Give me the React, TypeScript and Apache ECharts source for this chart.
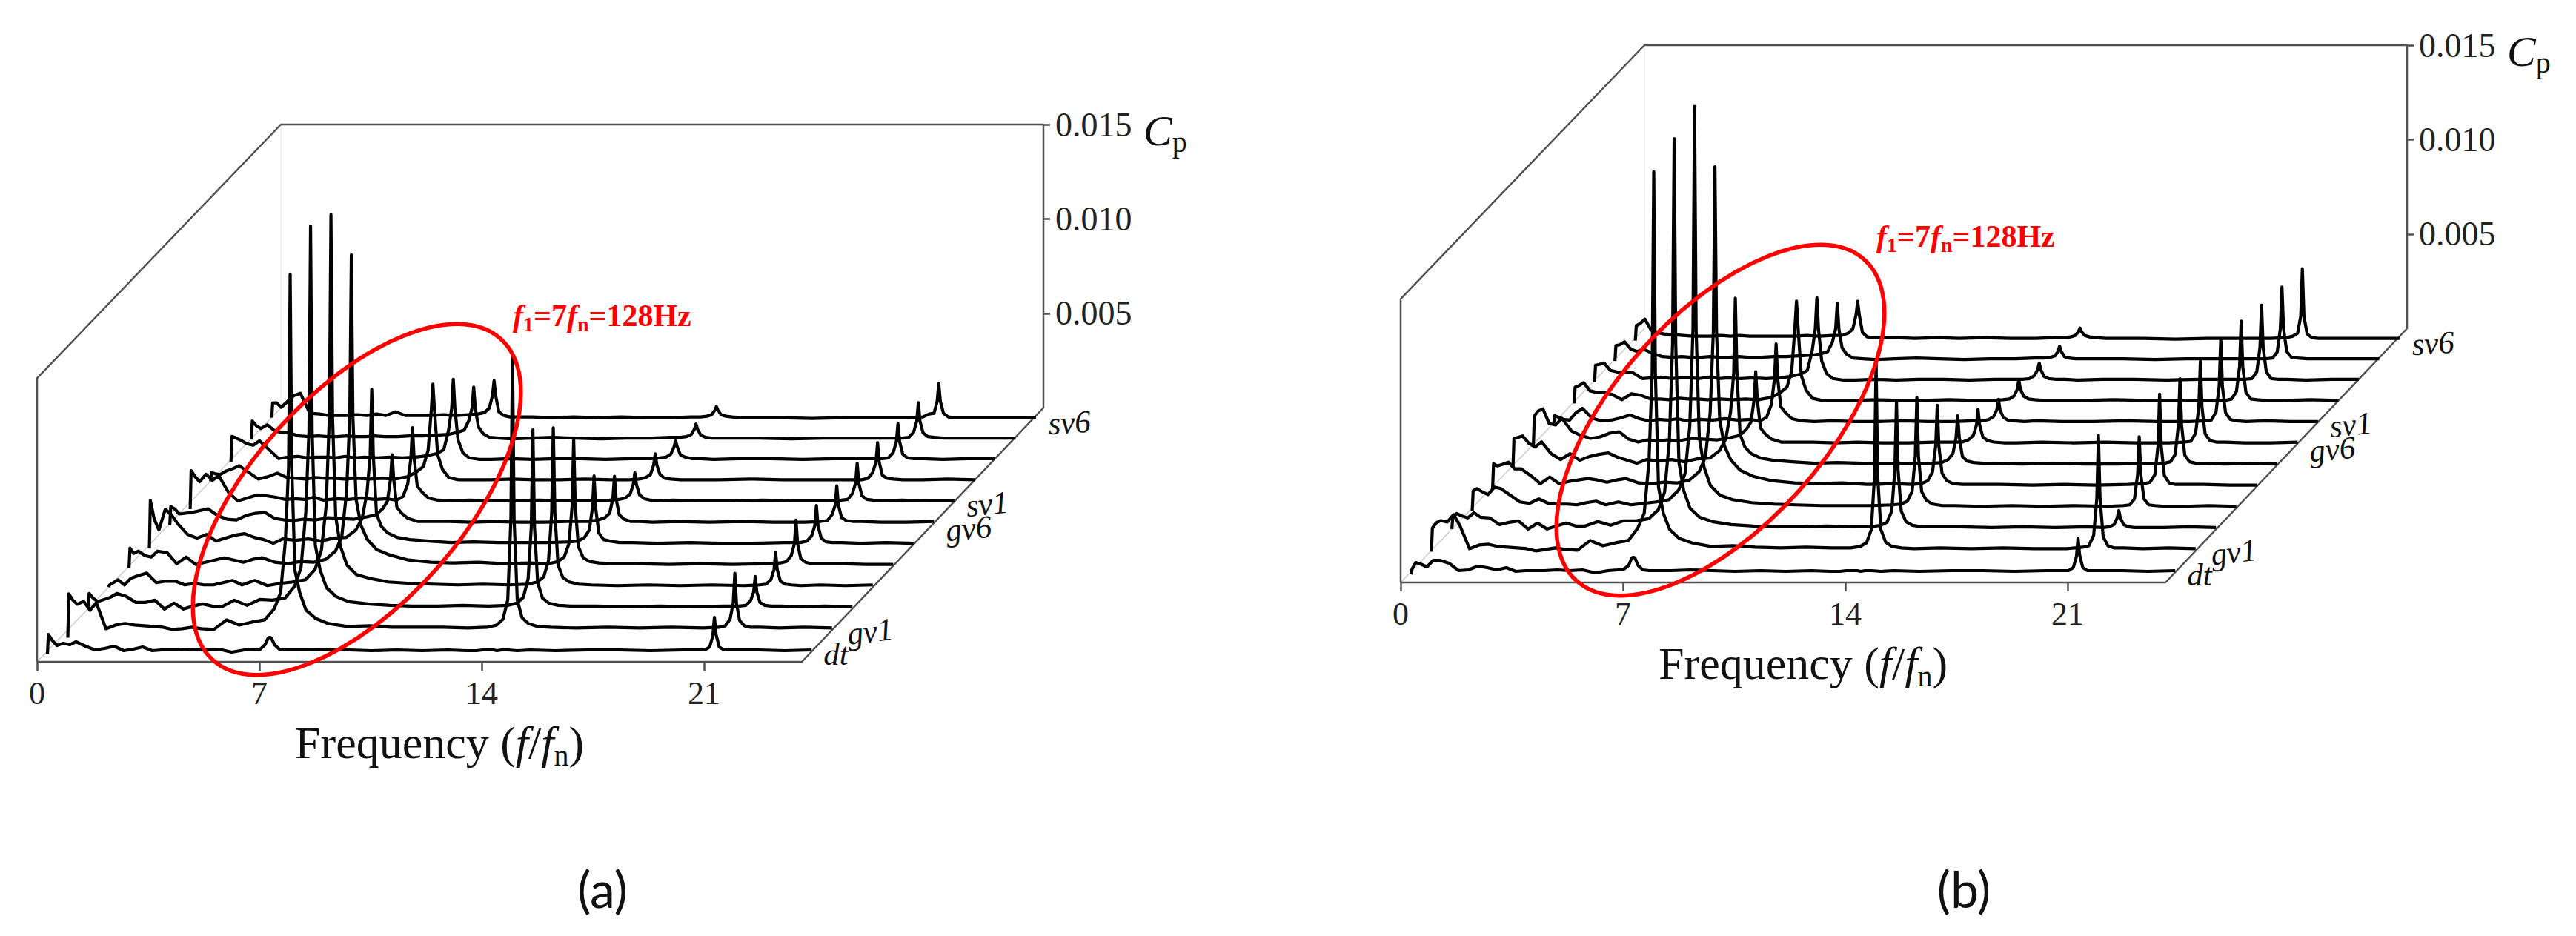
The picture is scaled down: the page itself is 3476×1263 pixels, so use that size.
import React, { useEffect, useRef } from 'react';
import * as echarts from 'echarts';

// frequency grid shared by all spectra (f/fn)
const freqs = [
  0, 0.03, 0.15, 0.3, 0.5, 0.7, 0.9, 1.2, 1.5, 1.8, 2.1, 2.4, 2.7, 3, 3.3, 3.6, 3.9, 4.2, 4.6, 5, 5.4, 5.8, 6.2,
  6.5, 6.7, 6.85, 6.95, 7, 7.05, 7.15, 7.3, 7.5, 7.8,
  8.2, 8.8, 9.5, 10.2, 11, 11.8, 12.6, 13.2,
  13.5, 13.7, 13.85, 13.95, 14, 14.05, 14.15, 14.3, 14.5, 14.8,
  15.2, 16, 17, 18, 19, 20,
  20.5, 20.7, 20.85, 20.95, 21, 21.05, 21.15, 21.3, 21.5, 21.8,
  22.4, 23.2, 24.06,
];

const lineNames = ['dt', 'gv1', 'gv2', 'gv3', 'gv4', 'gv5', 'gv6', 'sv1', 'sv2', 'sv3', 'sv4', 'sv6'];

// amplitudes are in units of CP_UNIT, from the front (dt) to the back (sv6)
const aDt = [
  -4, 22, 14, 7, 10, 8, 12, 6, 1, 3, 6, 0, 2, 5, 0, 1, 1, 1, 2, 1, 2, -2, 1,
  2, 2, 8, 17, 18, 17, 8, 2, 1, 1,
  1, 2, 1, 0, 1, 0, 1, 0,
  0, 1, 1, 1, 1, 1, 0, 1, 1, 0,
  1, 0, 1, 1, 0, 1,
  1, 1, 5, 20, 45, 22, 5, 1, 1, 1,
  1, 0, 1,
];
const aGv1 = [
  -11, 48, 40, 34, 38, 26, 36, 1, 6, 8, 6, 5, 4, 3, 0, 1, 3, 1, 0, 13, 6, 10, 13,
  28, 50, 120, 220, 480, 220, 80, 50, 26, 15,
  8, 4, 5, 3, 3, 3, 2, 3,
  6, 14, 40, 150, 372, 150, 40, 16, 8, 4,
  3, 2, 3, 2, 3, 2,
  3, 5, 14, 36, 76, 36, 12, 5, 3, 3,
  2, 3, 2,
];
const aGv2 = [
  0, 20, 14, 9, 12, 15, 20, 16, 8, 8, 11, -1, 7, -1, 3, 6, 3, 2, 11, 4, 12, 11, 14,
  30, 55, 130, 240, 516, 240, 85, 52, 28, 16,
  9, 6, 4, 3, 3, 4, 3, 4,
  7, 15, 40, 110, 241, 110, 35, 14, 7, 4,
  3, 3, 2, 3, 2, 3,
  3, 4, 10, 22, 43, 22, 8, 4, 3, 3,
  2, 3, 2,
];
const aGv3 = [
  0, 3, 6, 10, 3, 12, 15, 19, 6, 8, 8, 3, 5, 3, 3, 6, 9, 3, 9, 2, 5, 7, 10,
  24, 50, 110, 230, 503, 230, 95, 55, 30, 17,
  12, 7, 5, 4, 3, 4, 3, 4,
  7, 14, 36, 100, 215, 100, 30, 13, 7, 4,
  3, 2, 3, 2, 3, 2,
  3, 4, 10, 24, 47, 24, 8, 4, 3, 2,
  3, 2, 3,
];
const aGv4 = [
  -3, 24, 17, 20, 14, 12, 20, 18, 3, 12, 2, 5, 8, 11, 8, 5, 9, 11, 5, 3, 6, 5, 9,
  20, 40, 100, 200, 420, 200, 90, 55, 36, 22,
  15, 8, 5, 4, 5, 3, 4, 3,
  6, 12, 30, 80, 171, 80, 26, 11, 6, 4,
  3, 3, 2, 3, 2, 3,
  4, 6, 14, 30, 62, 30, 10, 5, 3, 3,
  3, 2, 2,
];
const aGv5 = [
  -5, 60, 35, 20, 48, 40, 28, 14, 9, 14, 5, 9, 13, 15, 10, 7, 2, 8, 6, 8, 5, 9, 10,
  20, 36, 70, 120, 210, 120, 42, 25, 16, 10,
  7, 5, 3, 4, 3, 3, 3, 4,
  5, 10, 20, 50, 93, 50, 16, 7, 5, 3,
  3, 2, 3, 2, 2, 3,
  3, 5, 12, 26, 53, 26, 9, 4, 3, 3,
  2, 3, 2,
];
const aGv6 = [
  -2, 23, 20, 13, 14, 15, 17, 20, 11, 6, 5, 11, 14, 15, 7, 5, 4, 6, 5, 8, 7, 6, 9,
  12, 20, 30, 60, 93, 60, 22, 14, 7, 3,
  3, 3, 2, 3, 2, 2, 3, 3,
  5, 8, 14, 34, 64, 34, 12, 6, 3, 3,
  2, 3, 2, 3, 2, 2,
  3, 4, 12, 25, 51, 25, 8, 4, 3, 3,
  2, 2, 3,
];
const aSv1 = [
  -9, 43, 35, 28, 38, 30, 36, 14, 2, 6, 10, 9, 7, 4, 5, 4, 7, 3, 5, 4, 6, 4, 5,
  3, 8, 25, 60, 101, 60, 22, 14, 6, 3,
  2, 3, 2, 2, 3, 2, 2, 3,
  4, 6, 11, 24, 40, 24, 10, 5, 3, 2,
  3, 2, 2, 3, 2, 2,
  3, 4, 12, 26, 53, 26, 9, 4, 3, 2,
  3, 2, 2,
];
const aSv2 = [
  0, 12, 10, 9, 14, 17, 21, 12, 3, 6, 11, 5, 4, 3, 5, 4, 4, 3, 4, 3, 4, 3, 6,
  13, 20, 42, 96, 131, 96, 36, 16, 5, 2,
  2, 2, 3, 2, 2, 3, 2, 2,
  3, 5, 9, 22, 37, 22, 9, 4, 3, 2,
  2, 2, 3, 2, 2, 2,
  2, 4, 12, 26, 52, 26, 8, 4, 3, 2,
  2, 3, 2,
];
const aSv3 = [
  -3, 32, 30, 27, 22, 20, 26, 14, 2, 4, 5, 3, 4, 4, 3, 5, 3, 4, 3, 4, 3, 4, 6,
  9, 14, 40, 70, 109, 70, 27, 10, 3, 1,
  1, 2, 1, 2, 2, 1, 2, 2,
  3, 4, 8, 18, 26, 18, 7, 4, 2, 2,
  1, 2, 2, 1, 2, 2,
  2, 3, 10, 25, 49, 25, 8, 3, 2, 2,
  1, 2, 2,
];
const aSv4 = [
  -1, 24, 18, 14, 19, 12, 9, 8, 4, 3, 4, 3, 3, 4, 3, 3, 4, 3, 3, 4, 4, 5, 6,
  9, 12, 25, 42, 70, 42, 16, 7, 2, 1,
  0, 1, 2, 1, 0, 1, 1, 2,
  2, 3, 6, 13, 20, 13, 5, 2, 1, 1,
  1, 1, 0, 1, 1, 1,
  1, 2, 9, 24, 49, 24, 8, 3, 2, 1,
  1, 1, 1,
];
const aSv6 = [
  0, 20, 20, 14, 22, 30, 33, 6, 5, 3, 3, 3, 4, 3, 5, 3, 8, 3, 3, 3, 4, 3, 4,
  5, 7, 13, 30, 50, 30, 8, 3, 1, 1,
  1, 0, 1, 0, 1, 0, 0, 1,
  1, 2, 4, 10, 15, 10, 4, 2, 1, 0,
  0, 0, -1, 0, 0, 0,
  1, 5, 6, 22, 46, 22, 6, 1, 0, 0,
  0, 0, 0,
];

const bDt = [
  -4, 3, 12, 10, 6, 15, 15, 11, 1, 2, 7, 5, 2, 5, 0, 1, 1, 1, 2, 1, 2, -2, 1,
  2, 3, 8, 18, 19, 18, 8, 2, 1, 1,
  1, 2, 1, 0, 1, 0, 1, 0,
  0, 1, 1, 1, 1, 1, 0, 1, 1, 0,
  1, 0, 1, 1, 0, 1,
  1, 1, 5, 20, 45, 22, 5, 1, 1, 1,
  1, 0, 1,
];
const bGv1 = [
  -2, 30, 37, 40, 38, 48, 33, 2, 7, 8, 5, 4, 3, 2, -1, 1, 3, 1, 0, 13, 6, 10, 13,
  30, 50, 120, 240, 511, 240, 85, 50, 28, 16,
  10, 5, 6, 4, 3, 4, 3, 3,
  5, 10, 28, 100, 255, 100, 28, 11, 5, 3,
  2, 3, 2, 3, 2, 2,
  4, 6, 20, 70, 155, 70, 18, 6, 3, 3,
  2, 3, 2,
];
const bGv2 = [
  0, 15, 21, 18, 15, 22, 16, 15, 6, 9, 11, 0, 8, 0, 4, 8, 4, 4, 10, 5, 11, 11, 14,
  26, 50, 120, 250, 527, 250, 90, 52, 28, 16,
  10, 6, 4, 3, 3, 4, 3, 3,
  5, 9, 24, 80, 172, 80, 24, 10, 5, 3,
  3, 3, 2, 3, 2, 3,
  2, 3, 6, 15, 25, 15, 6, 3, 2, 2,
  2, 3, 2,
];
const bGv3 = [
  -4, 23, 26, 22, 18, 28, 26, 17, 8, 6, 12, 6, 5, 5, 4, 7, 9, 4, 8, 4, 6, 8, 11,
  24, 46, 110, 240, 542, 240, 95, 55, 30, 17,
  11, 7, 5, 4, 3, 3, 3, 4,
  5, 9, 22, 70, 149, 70, 22, 10, 5, 3,
  3, 2, 3, 2, 3, 2,
  3, 4, 12, 45, 96, 45, 12, 4, 3, 2,
  2, 3, 2,
];
const bGv4 = [
  -3, 31, 28, 30, 33, 24, 24, 15, 4, 13, 4, 7, 9, 11, 9, 6, 9, 11, 5, 4, 6, 5, 9,
  20, 40, 100, 210, 432, 210, 90, 55, 36, 22,
  14, 8, 5, 4, 5, 3, 4, 3,
  4, 8, 20, 55, 110, 55, 18, 8, 4, 3,
  3, 3, 2, 3, 2, 3,
  4, 6, 16, 55, 125, 55, 15, 5, 3, 3,
  3, 2, 2,
];
const bGv5 = [
  -3, 36, 38, 40, 30, 25, 32, 16, 8, 16, 7, 12, 15, 17, 11, 7, 3, 8, 6, 8, 5, 9, 10,
  20, 36, 72, 125, 226, 125, 42, 25, 16, 10,
  7, 5, 3, 4, 3, 3, 3, 3,
  4, 8, 16, 38, 67, 38, 12, 6, 4, 3,
  3, 2, 3, 2, 2, 3,
  3, 5, 15, 55, 117, 55, 14, 5, 3, 3,
  2, 3, 2,
];
const bGv6 = [
  -2, 38, 45, 48, 28, 26, 35, 18, 12, 8, 10, 15, 17, 7, 3, 6, 4, 6, 5, 8, 7, 6, 9,
  12, 20, 30, 60, 98, 60, 22, 14, 7, 3,
  3, 3, 2, 3, 2, 2, 3, 3,
  3, 6, 12, 26, 47, 26, 10, 5, 3, 2,
  2, 3, 2, 3, 2, 2,
  3, 4, 15, 50, 112, 50, 14, 5, 3, 3,
  2, 2, 3,
];
const bSv1 = [
  0, 10, 8, 5, 4, 14, 20, 7, 3, 4, 7, 11, 6, 3, 5, 4, 6, 3, 5, 4, 6, 4, 5,
  3, 8, 25, 60, 107, 60, 22, 14, 6, 3,
  2, 3, 2, 2, 3, 2, 2, 3,
  3, 5, 9, 18, 32, 18, 8, 4, 3, 2,
  3, 2, 2, 3, 2, 2,
  3, 4, 15, 50, 114, 50, 14, 5, 3, 2,
  3, 2, 2,
];
const bSv2 = [
  -2, 20, 22, 26, 15, 13, 13, 10, 3, 11, 9, 4, 4, 3, 5, 4, 4, 3, 4, 3, 4, 3, 6,
  13, 20, 42, 100, 136, 100, 36, 16, 5, 2,
  2, 2, 3, 2, 2, 3, 2, 2,
  3, 4, 8, 17, 30, 17, 8, 4, 3, 2,
  2, 2, 3, 2, 2, 2,
  2, 4, 14, 48, 109, 48, 13, 4, 3, 2,
  2, 3, 2,
];
const bSv3 = [
  -2, 21, 22, 24, 14, 12, 11, 11, 3, 4, 5, 3, 4, 4, 3, 5, 3, 4, 3, 4, 3, 4, 6,
  9, 14, 40, 70, 112, 70, 27, 10, 3, 1,
  1, 2, 1, 2, 2, 1, 2, 2,
  2, 3, 7, 15, 24, 15, 6, 3, 2, 2,
  1, 2, 2, 1, 2, 2,
  2, 3, 12, 45, 102, 45, 12, 3, 2, 2,
  1, 2, 2,
];
const bSv4 = [
  -2, 19, 20, 24, 14, 11, 14, 8, 4, 3, 4, 3, 3, 4, 3, 3, 4, 3, 3, 4, 4, 5, 6,
  8, 11, 24, 42, 76, 42, 16, 7, 2, 1,
  0, 1, 2, 1, 0, 1, 1, 2,
  2, 3, 5, 11, 18, 11, 4, 2, 1, 1,
  1, 1, 0, 1, 1, 1,
  1, 2, 10, 42, 98, 42, 11, 3, 2, 1,
  1, 1, 1,
];
const bSv6 = [
  -3, 17, 20, 26, 11, 8, 6, 5, 4, 3, 3, 3, 4, 3, 4, 3, 3, 3, 3, 3, 4, 3, 4,
  4, 7, 13, 32, 50, 32, 8, 2, 1, 1,
  1, 0, 1, 0, 1, 0, 0, 1,
  1, 2, 4, 9, 14, 9, 4, 2, 1, 0,
  0, 0, -1, 0, 0, 0,
  1, 3, 7, 30, 94, 30, 6, 1, 0, 0,
  0, 0, 0,
];

const panelA = [aDt, aGv1, aGv2, aGv3, aGv4, aGv5, aGv6, aSv1, aSv2, aSv3, aSv4, aSv6];
const panelB = [bDt, bGv1, bGv2, bGv3, bGv4, bGv5, bGv6, bSv1, bSv2, bSv3, bSv4, bSv6];

const xTicks = [0, 7, 14, 21];
const yTicks = [0.005, 0.01, 0.015];

const CP_UNIT = 0.005 / 127.5;
const X_MAX = 31.685;
const X_FRONT_END = 24.08;
const X_BACK_START = 7.676;
const FLOOR = -343 * CP_UNIT;
// waterfall offset of each spectrum
const DEPTH_X0 = 0.327;
const DEPTH_DX = 0.642;
const DEPTH_Y0 = 15;
const DEPTH_DY = 28.6;

const SERIF = 'Liberation Serif';
const LEFT_A = 50;
const TOP_A = 168;
const DX_B = 1840;
const DY_B = -107;

function panelSeries(lines: number[][], gridIndex: number) {
  const frame = [
    [0, FLOOR], [X_FRONT_END, FLOOR], [X_MAX, 0], [X_MAX, 0.015],
    [X_BACK_START, 0.015], [0, 40 * CP_UNIT], [0, FLOOR],
  ];
  const base = {
    type: 'line', xAxisIndex: gridIndex, yAxisIndex: gridIndex,
    symbol: 'none', showSymbol: false, silent: true, clip: false,
  };
  const out: any[] = [
    { ...base, name: 'back edge', data: [[X_BACK_START, 0.015], [X_BACK_START, 0]], lineStyle: { color: '#eeeeee', width: 1.5 } },
    { ...base, name: 'floor edge', data: [[0, FLOOR], [X_BACK_START, 0]], lineStyle: { color: '#cccccc', width: 1.5 } },
    { ...base, name: 'frame', data: frame, lineStyle: { color: '#505050', width: 2.5 } },
  ];
  // back to front, each curve hides what is behind it
  for (let i = lines.length - 1; i >= 0; i--) {
    const dx = DEPTH_X0 + DEPTH_DX * i;
    const floor = FLOOR + (DEPTH_Y0 + DEPTH_DY * i) * CP_UNIT;
    out.push({
      ...base,
      name: lineNames[i],
      data: freqs.map((f, k) => [f + dx, floor + lines[i][k] * CP_UNIT]),
      lineStyle: { color: '#000000', width: 4.2, join: 'round' },
      areaStyle: { color: '#ffffff', opacity: 1, origin: floor },
    });
  }
  return out;
}

function axisPair(gridIndex: number) {
  const tickLine = { color: '#505050', width: 2.5 };
  return {
    x: {
      type: 'value', gridIndex, min: 0, max: X_MAX,
      splitLine: { show: false }, axisLine: { show: false, onZero: false },
      axisTick: { show: true, customValues: xTicks, length: 12, lineStyle: tickLine },
      axisLabel: { customValues: xTicks, margin: 20, fontFamily: SERIF, fontSize: 44, color: '#222222' },
    },
    y: {
      type: 'value', gridIndex, min: FLOOR, max: 0.015, position: 'right',
      splitLine: { show: false }, axisLine: { show: false, onZero: false },
      axisTick: { show: true, customValues: yTicks, length: 9, lineStyle: tickLine },
      axisLabel: {
        customValues: yTicks, margin: 16, fontFamily: SERIF, fontSize: 46, color: '#222222',
        formatter: (v: number) => v.toFixed(3),
      },
    },
  };
}

function panelGraphics(ox: number, oy: number) {
  const serif = { fontFamily: SERIF, fill: '#111111' };
  const depthLabel = (text: string, x: number, y: number, rotation: number) => ({
    type: 'text', x: x + ox, y: y + oy, rotation, z: 20,
    style: { text, ...serif, fontSize: 43, fontStyle: 'italic', align: 'center', verticalAlign: 'middle' },
  });
  return [
    {
      type: 'ellipse', x: 481.5 + ox, y: 674 + oy, rotation: 0.84, z: 30,
      shape: { cx: 0, cy: 0, rx: 291, ry: 142.5 },
      style: { fill: 'none', stroke: '#ff0000', lineWidth: 5.5 },
    },
    depthLabel('dt', 1128, 882, 0),
    depthLabel('gv1', 1174, 852, 0.12),
    depthLabel('gv6', 1307, 713, 0.1),
    depthLabel('sv1', 1332, 680, 0.1),
    depthLabel('sv6', 1443, 570, 0.06),
    {
      type: 'text', x: 398 + ox, y: 1002 + oy, z: 20,
      style: {
        text: '{a|Frequency (}{i|f}{a|/}{i|f}{s|n}{a|)}',
        verticalAlign: 'middle',
        rich: {
          a: { ...serif, fontSize: 62, lineHeight: 74 },
          i: { ...serif, fontSize: 62, lineHeight: 74, fontStyle: 'italic' },
          s: { ...serif, fontSize: 40, lineHeight: 74, verticalAlign: 'bottom' },
        },
      },
    },
    {
      type: 'text', x: 1543 + ox, y: 176 + oy, z: 20,
      style: {
        text: '{c|C}{p|p}',
        verticalAlign: 'middle',
        rich: {
          c: { ...serif, fontSize: 58, lineHeight: 70, fontStyle: 'italic' },
          p: { ...serif, fontSize: 40, lineHeight: 70, verticalAlign: 'bottom' },
        },
      },
    },
    {
      type: 'text', x: 692 + ox, y: 426 + oy, z: 31,
      style: {
        text: '{f|f}{s|1}{t|=7}{f|f}{s|n}{t|=128Hz}',
        verticalAlign: 'middle',
        rich: {
          f: { fontFamily: SERIF, fill: '#ff0000', fontSize: 42, lineHeight: 50, fontStyle: 'italic', fontWeight: 'bold' },
          t: { fontFamily: SERIF, fill: '#ff0000', fontSize: 42, lineHeight: 50, fontWeight: 'bold' },
          s: { fontFamily: SERIF, fill: '#ff0000', fontSize: 28, lineHeight: 50, fontWeight: 'bold', verticalAlign: 'bottom' },
        },
      },
    },
  ];
}

const captions = [
  { text: '(a)', x: 813 },
  { text: '(b)', x: 2650 },
];

export default function App() {
  const ref = useRef<HTMLDivElement>(null);

  useEffect(() => {
    const chart = echarts.init(ref.current, null, { renderer: 'svg' });
    const axA = axisPair(0);
    const axB = axisPair(1);
    chart.setOption({
      animation: false,
      backgroundColor: '#ffffff',
      grid: [
        { left: LEFT_A, top: TOP_A, width: 1358, height: 725 },
        { left: LEFT_A + DX_B, top: TOP_A + DY_B, width: 1358, height: 725 },
      ],
      xAxis: [axA.x, axB.x],
      yAxis: [axA.y, axB.y],
      series: [...panelSeries(panelA, 0), ...panelSeries(panelB, 1)],
      graphic: {
        elements: [
          ...panelGraphics(0, 0),
          ...panelGraphics(DX_B, DY_B),
          ...captions.map((c) => ({
            type: 'text', x: c.x, y: 1198, z: 20,
            style: { text: c.text, fontFamily: 'Lato', fontSize: 68, fill: '#111111', align: 'center', verticalAlign: 'middle' },
          })),
        ],
      },
    });
    return () => chart.dispose();
  }, []);

  return <div ref={ref} style={{ position: 'absolute', left: 0, top: 0, width: 3476, height: 1263, background: '#fff' }} />;
}
